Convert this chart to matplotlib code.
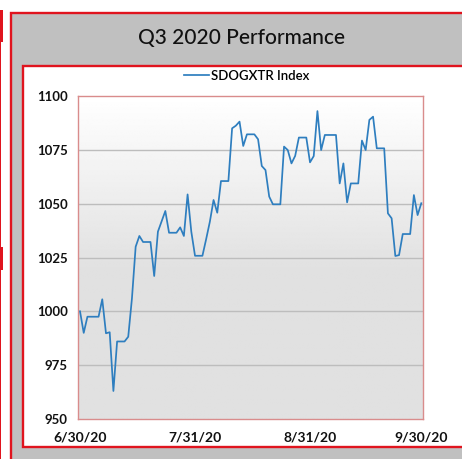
import matplotlib
matplotlib.use('Agg')
import matplotlib.pyplot as plt
import numpy as np
import pandas as pd
from matplotlib.patches import Rectangle
from matplotlib.lines import Line2D

# daily index level, 6/30/20 .. 9/30/20 (weekends / holidays carried flat)
index_values = [
    1000.0, 990.0, 997.5, 997.5, 997.5, 997.5, 1005.6, 989.8, 990.3, 963.0,
    986.0, 986.0, 986.0, 988.2, 1006.0, 1030.0, 1035.0, 1032.2, 1032.2, 1032.2,
    1016.4, 1037.0, 1041.8, 1046.6, 1036.5, 1036.5, 1036.5, 1039.0, 1035.0, 1054.3,
    1037.0, 1025.8, 1025.8, 1025.8, 1033.5, 1041.6, 1051.7, 1045.8, 1060.5, 1060.5,
    1060.5, 1085.0, 1086.2, 1088.1, 1076.8, 1082.2, 1082.2, 1082.2, 1079.9, 1067.5,
    1065.6, 1053.3, 1049.7, 1049.7, 1049.7, 1076.5, 1074.9, 1068.7, 1072.2, 1080.7,
    1080.7, 1080.7, 1069.2, 1072.1, 1093.0, 1074.9, 1081.9, 1081.9, 1081.9, 1081.9,
    1059.4, 1068.7, 1050.6, 1059.4, 1059.4, 1059.4, 1079.3, 1074.9, 1088.9, 1090.4,
    1075.7, 1075.7, 1075.7, 1045.5, 1043.2, 1025.7, 1026.1, 1035.9, 1035.9, 1035.9,
    1054.0, 1044.7, 1050.2,
]
series_name = 'SDOGXTR Index'
title = 'Q3 2020 Performance'
tick_dates = ['2020-06-30', '2020-07-31', '2020-08-31', '2020-09-30']
tick_labels = ['6/30/20', '7/31/20', '8/31/20', '9/30/20']
y_ticks = [950, 975, 1000, 1025, 1050, 1075, 1100]

W, H = 462, 459
RED = '#e0141e'
LINE = '#2e7ebf'


def px_rect(fig, x0, y0, x1, y1, **kw):
    return Rectangle((x0 / W, 1 - y1 / H), (x1 - x0) / W, (y1 - y0) / H,
                     transform=fig.transFigure, zorder=-5, **kw)


def main():
    plt.rcParams['font.family'] = ['Lato', 'DejaVu Sans']
    fig = plt.figure(figsize=(W / 100, H / 100), dpi=100, facecolor='white')

    # frames
    fig.patches.append(px_rect(fig, 11.2, 12.6, 480, 480, facecolor='#c0c0c0',
                               edgecolor=RED, linewidth=1.7))
    fig.patches.append(px_rect(fig, 22.6, 65.6, 480, 447.2, facecolor='white',
                               edgecolor=RED, linewidth=1.7))
    fig.patches.append(px_rect(fig, 0, 10, 1.3, 459, facecolor=RED, linewidth=0))
    fig.patches.append(px_rect(fig, 0, 10, 3, 42, facecolor=RED, linewidth=0))
    fig.patches.append(px_rect(fig, 0, 247, 3, 270, facecolor=RED, linewidth=0))

    fig.text(242 / W, 1 - 38 / H, title, ha='center', va='center',
             fontsize=15, fontweight='medium', color='#111111')

    ax = fig.add_axes([78 / W, 1 - 419 / H, 345 / W, 323 / H])
    ax.set_zorder(5)
    dates = pd.date_range('2020-06-30', periods=len(index_values), freq='D')

    x0 = dates[0] - pd.Timedelta(hours=13)
    x1 = dates[-1] + pd.Timedelta(hours=11)
    ax.set_xlim(x0, x1)
    ax.set_ylim(950, 1100)

    # background gradient: white at top fading to light grey
    yy = np.linspace(1100, 950, 300)
    t = np.clip((1100 - yy) / 80.0, 0, 1)
    shade = 1.0 - t * (1.0 - 0.882)
    grad = np.repeat(shade[:, None], 2, axis=1)
    ax.imshow(grad, cmap='gray', vmin=0, vmax=1, aspect='auto',
              extent=[matplotlib.dates.date2num(x0), matplotlib.dates.date2num(x1), 950, 1100],
              zorder=0, interpolation='bilinear')

    for v in y_ticks[1:-1]:
        ax.axhline(v, color='#bdbdbd', linewidth=1.0, zorder=1)

    ax.plot(dates, index_values, color=LINE, linewidth=1.25, zorder=3,
            label=series_name)

    ax.set_yticks(y_ticks)
    ax.set_yticklabels([str(v) for v in y_ticks])
    ax.set_xticks(pd.to_datetime(tick_dates))
    ax.set_xticklabels(tick_labels)
    ax.tick_params(axis='y', length=0, pad=7.5, labelsize=9.5)
    ax.tick_params(axis='x', length=0, pad=9, labelsize=10)
    for lab in ax.get_xticklabels() + ax.get_yticklabels():
        lab.set_fontweight('bold')
        lab.set_color('#111111')
    for s in ax.spines.values():
        s.set_color('#d98c8c')
        s.set_linewidth(1.0)

    handle = Line2D([], [], color=LINE, linewidth=1.25)
    fig.legend([handle], [series_name], loc='center',
               bbox_to_anchor=(247 / W, 1 - 76 / H), frameon=False,
               handlelength=1.9, handletextpad=0.15,
               borderpad=0, prop={'weight': 'semibold', 'size': 9.5})

    fig.savefig('out.png', dpi=100, facecolor='white')


if __name__ == '__main__':
    main()
